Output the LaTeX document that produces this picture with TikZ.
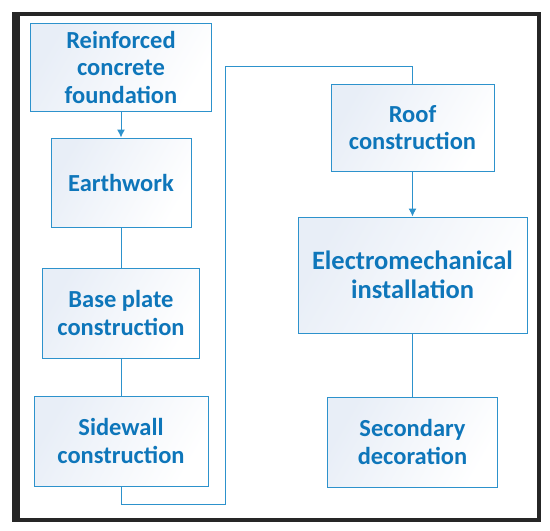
\documentclass[tikz,border=0pt]{standalone}
\usepackage{fontspec}
\setmainfont{Carlito}
\usepackage{tikz}
\usetikzlibrary{arrows.meta}
\definecolor{stepblue}{RGB}{14,118,186}
\definecolor{linkblue}{RGB}{45,146,204}
\definecolor{boxshade}{RGB}{232,238,247}
\tikzstyle{stage} = [draw=linkblue, line width=1pt, left color=boxshade,
    right color=white, shading angle=60, align=center, inner sep=0pt,
    text=stepblue, font=\fontsize{24.5}{27.5}\selectfont\bfseries]
\tikzstyle{link} = [draw=linkblue, line width=1pt]
\tikzset{>={Latex[length=2.8mm,width=2.8mm]}}

\begin{document}
\begin{tikzpicture}[x=1pt,y=-1pt]
\useasboundingbox (0,0) rectangle (550,531);
    % frame
    \draw[line width=4pt, black!85] (16,14) rectangle (538.5,519.5);
    \draw[line width=8pt, black!85] (16,12) -- (16,521.5);
    % left column
    \node[stage, minimum width=181pt, minimum height=88pt] (found) at (121,67)
        {Reinforced\\concrete\\foundation};
    \node[stage, minimum width=140pt, minimum height=89pt] (earth) at (121,182.5)
        {Earthwork};
    \node[stage, minimum width=157pt, minimum height=90pt] (base) at (121,313)
        {Base plate\\construction};
    \node[stage, minimum width=174pt, minimum height=90pt] (side) at (121,441)
        {Sidewall\\construction};
    % right column
    \node[stage, minimum width=163pt, minimum height=87pt] (roof) at (412.5,127.5)
        {Roof\\construction};
    \node[stage, minimum width=229pt, minimum height=116pt,
        font=\fontsize{26.5}{29}\selectfont\bfseries] (elec) at (412.5,275)
        {Electromechanical\\installation};
    \node[stage, minimum width=170pt, minimum height=90pt] (deco) at (412.5,442)
        {Secondary\\decoration};
    \coordinate (low) at (225,504);
    \coordinate (high) at (225,66);
    \draw[link,->] (found) -- (earth);
    \draw[link] (earth) -- (base);
    \draw[link] (base) -- (side);
    \draw[link] (side.south) |- (low) -- (high) -| (roof.north);
    \draw[link,->] (roof) -- (elec);
    \draw[link] (elec) -- (deco);
\end{tikzpicture}
\end{document}
